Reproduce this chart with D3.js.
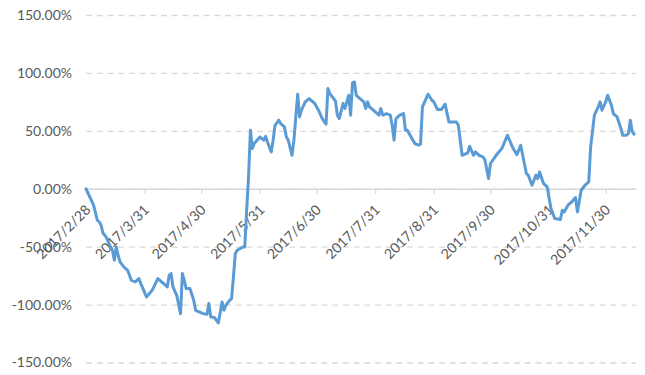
<!DOCTYPE html>
<html>
<head>
<meta charset="utf-8">
<script src="https://cdn.jsdelivr.net/npm/d3@7"></script>
<style>
  body { margin: 0; background: #fff; }
  svg text { font-family: Lato, "Liberation Sans", sans-serif; fill: #595959; }
</style>
</head>
<body>
<div id="chart"></div>
<script>
// trading days (2017) and cumulative return in percent
const dates = [
  '2/28', '3/4', '3/6', '3/7', '3/8', '3/9', '3/10', '3/11', '3/13', '3/14',
  '3/15', '3/16', '3/17', '3/18', '3/20', '3/22', '3/24', '3/26', '3/28', '3/29',
  '4/1', '4/4', '4/7', '4/11', '4/12', '4/13', '4/14', '4/15', '4/17', '4/19',
  '4/20', '4/21', '4/22', '4/24', '4/26', '4/27', '5/1', '5/3', '5/4', '5/5',
  '5/7', '5/9', '5/11', '5/12', '5/13', '5/15', '5/16', '5/17', '5/18', '5/19',
  '5/22', '5/23', '5/24', '5/25', '5/26',
  '5/27', '5/28', '5/31', '6/2', '6/3', '6/4', '6/6', '6/7', '6/8', '6/10',
  '6/11', '6/13', '6/14', '6/15', '6/17', '6/18', '6/19', '6/20', '6/21', '6/22',
  '6/24', '6/26', '6/29', '7/1', '7/3', '7/5', '7/6', '7/7', '7/9', '7/10',
  '7/11', '7/12', '7/14', '7/15', '7/16', '7/17', '7/18', '7/19', '7/20', '7/21',
  '7/23', '7/25', '7/26', '7/27', '7/28', '7/30', '8/2', '8/3', '8/4', '8/6',
  '8/8', '8/9', '8/10', '8/11', '8/13', '8/15', '8/16', '8/17', '8/19', '8/21',
  '8/23', '8/24', '8/25', '8/28', '8/30', '8/31', '9/2', '9/4', '9/6', '9/8',
  '9/12', '9/13', '9/15', '9/18', '9/19', '9/21', '9/22', '9/24', '9/26', '9/27',
  '9/29', '9/30', '10/3', '10/6', '10/9', '10/12', '10/14', '10/16', '10/19', '10/20',
  '10/22', '10/24', '10/25', '10/26', '10/28', '10/30', '11/1', '11/3', '11/6', '11/7',
  '11/8', '11/10', '11/12', '11/14', '11/15', '11/17', '11/19', '11/21', '11/22', '11/24',
  '11/26', '11/27', '11/28', '11/30', '12/1', '12/3', '12/4', '12/6', '12/8', '12/9',
  '12/11', '12/12', '12/13', '12/14', '12/15'
];
const returns = [
  0, -14.2, -27.2, -28.7, -31.5, -38.4, -40.2, -42.8, -50.3, -53.1,
  -61.7, -50.3, -57.4, -63.2, -67.5, -70.4, -79.0, -80.5, -77.6, -81.9,
  -93.4, -87.7, -77.6, -83.3, -84.8, -74.7, -73.2, -84.8, -92.0, -107.8,
  -73.2, -79.0, -86.2, -86.2, -96.3, -104.9, -107.8, -108.4, -99.1, -110.7,
  -111.2, -115.9, -97.8, -104.9, -100.6, -96.3, -94.8, -76.2, -56.0, -53.1,
  -50.3, -50.3, -18.6, 10.2, 50.5,
  34.7, 39.0, 44.7, 41.9, 45.3, 40.4, 31.8, 41.9, 54.8, 59.2,
  56.3, 53.4, 44.7, 41.9, 28.9, 41.9, 62.0, 81.6, 62.0, 67.8,
  75.0, 77.9, 73.6, 67.8, 60.6, 55.7, 86.5, 82.2, 77.9, 75.6,
  63.5, 60.6, 73.6, 69.3, 75.0, 80.7, 63.5, 91.4, 92.2, 80.7,
  77.9, 75.0, 69.3, 75.0, 70.6, 67.8, 63.5, 69.3, 63.5, 64.9,
  63.5, 54.8, 41.9, 60.6, 63.5, 64.9, 50.5, 50.5, 44.7, 39.0,
  37.6, 38.4, 70.6, 81.6, 76.4, 75.0, 68.4, 68.4, 73.0, 57.7,
  57.7, 54.8, 28.9, 30.9, 36.7, 28.9, 31.8, 28.9, 27.5, 25.2,
  8.8, 21.8, 28.9, 34.7, 46.2, 34.7, 29.5, 37.6, 13.1, 11.7,
  3.0, 11.7, 8.8, 14.5, 4.7, 1.6, -17.1, -25.7, -26.6, -18.6,
  -20.0, -14.2, -11.4, -7.6, -20.0, -1.3, 3.0, 5.9, 36.1, 63.5,
  70.6, 75.0, 67.8, 75.0, 80.7, 72.1, 64.9, 62.0, 52.0, 46.2,
  46.2, 47.7, 59.2, 49.1, 47.1
];
const tickDates = ['2/28', '3/31', '4/30', '5/31', '6/30', '7/31', '8/31', '9/30', '10/31', '11/30'];
const yTicks = [-150, -100, -50, 0, 50, 100, 150];

const width = 645;
const height = 375;
const margin = { top: 15, right: 9, bottom: 12.5, left: 86 };

const parse = d3.timeParse('%Y/%m/%d');
const toDate = (s) => parse('2017/' + s);
const data = dates.map((s, i) => ({ date: toDate(s), value: returns[i] }))
  .filter((d) => d.value !== undefined);

const x = d3.scaleTime()
  .domain([toDate('2/28'), toDate('12/16')])
  .range([margin.left, width - margin.right]);
const y = d3.scaleLinear()
  .domain([-150, 150])
  .range([height - margin.bottom, margin.top]);

const svg = d3.select('#chart').append('svg')
  .attr('width', width)
  .attr('height', height);

// dashed gridlines + y labels
const yAxis = d3.axisLeft(y)
  .tickValues(yTicks)
  .tickSize(-(width - margin.left - margin.right))
  .tickPadding(14)
  .tickFormat((d) => d.toFixed(2) + '%');

svg.append('g')
  .attr('transform', `translate(${margin.left},0)`)
  .call(yAxis)
  .call((g) => g.select('.domain').remove())
  .call((g) => g.selectAll('.tick line')
    .attr('stroke', '#d9d9d9')
    .attr('stroke-width', 1.3)
    .attr('stroke-dasharray', '6,4.7'))
  .call((g) => g.selectAll('.tick text')
    .attr('font-size', 14)
    .attr('fill', '#595959'));

// x axis sits on the zero line
const xAxis = d3.axisBottom(x)
  .tickValues(tickDates.map(toDate))
  .tickSize(5)
  .tickSizeOuter(0)
  .tickFormat(d3.timeFormat('%Y/%-m/%-d'));

const gx = svg.append('g')
  .attr('transform', `translate(0,${y(0)})`)
  .call(xAxis);

gx.select('.domain').attr('stroke', '#d9d9d9').attr('stroke-width', 1.3);
gx.selectAll('.tick line').attr('stroke', '#d9d9d9').attr('stroke-width', 1.3);
gx.selectAll('.tick text')
  .attr('font-size', 14)
  .attr('fill', '#595959')
  .attr('text-anchor', 'end')
  .attr('dy', 0)
  .attr('y', 0)
  .attr('transform', 'translate(5,22) rotate(-45)');

const line = d3.line()
  .x((d) => x(d.date))
  .y((d) => y(d.value));

svg.append('path')
  .datum(data)
  .attr('fill', 'none')
  .attr('stroke', '#5b9bd5')
  .attr('stroke-width', 3)
  .attr('stroke-linejoin', 'round')
  .attr('stroke-linecap', 'round')
  .attr('d', line);
</script>
</body>
</html>
